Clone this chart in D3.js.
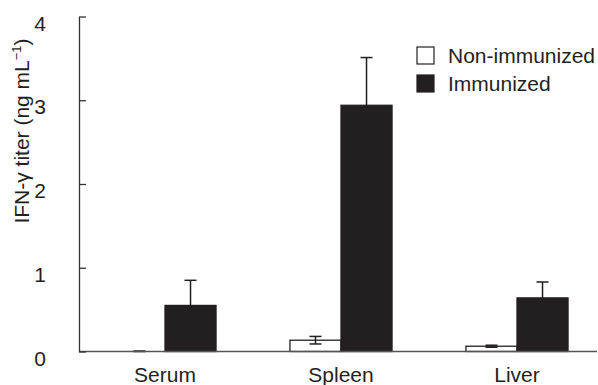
<html>
<head>
<meta charset="UTF-8"/>
<script src="https://d3js.org/d3.v7.min.js"></script>
<style>
body { margin: 0; background: #fff; }
text { font-family: "Liberation Sans", Arial, sans-serif; fill: #231f20; }
</style>
</head>
<body>
<script>
// data
const categories = ["Serum", "Spleen", "Liver"];
const series = ["Non-immunized", "Immunized"];
const nonImmunized = [0, 0.135, 0.063];
const nonImmunizedErr = [0.005, 0.045, 0.012];
const immunized = [0.55, 2.94, 0.64];
const immunizedErr = [0.30, 0.57, 0.19];
const yTicks = [0, 1, 2, 3, 4];

const width = 598;
const height = 385;
const dark = "#231f20";

var svg = d3.select("body")
			.append("svg")
			.attr("width", width)
			.attr("height", height);

var y = d3.scaleLinear().domain([0, 4]).range([351.5, 16.5]);

var x0 = d3.scaleBand()
			.domain(categories)
			.range([77, 605])
			.paddingInner(0.42)
			.paddingOuter(0.21);

var x1 = d3.scaleBand()
			.domain(series)
			.range([0, x0.bandwidth()]);

// rows: one per bar
var rows = [];
categories.forEach((c, i) => {
	rows.push({cat: c, s: series[0], v: nonImmunized[i], e: nonImmunizedErr[i]});
	rows.push({cat: c, s: series[1], v: immunized[i], e: immunizedErr[i]});
});

var bar = svg.selectAll("g.bar")
			.data(rows)
			.enter()
			.append("g")
			.attr("class", "bar")
			.attr("transform", d => "translate(" + (x0(d.cat) + x1(d.s)) + ",0)");

bar.append("rect")
	.attr("x", 0)
	.attr("y", d => y(d.v))
	.attr("width", x1.bandwidth())
	.attr("height", d => y(0) - y(d.v))
	.attr("fill", d => d.s === series[0] ? "#fff" : dark)
	.attr("stroke", dark)
	.attr("stroke-width", 1.3);

//误差线
const cap = 6;
var err = bar.append("g")
			.attr("stroke", dark)
			.attr("stroke-width", 1.5);
err.append("line")
	.attr("x1", x1.bandwidth() / 2).attr("x2", x1.bandwidth() / 2)
	.attr("y1", d => y(Math.max(0, d.v - d.e)))
	.attr("y2", d => y(d.v + d.e));
err.append("line")
	.attr("x1", x1.bandwidth() / 2 - cap).attr("x2", x1.bandwidth() / 2 + cap)
	.attr("y1", d => y(d.v + d.e)).attr("y2", d => y(d.v + d.e));
err.filter(d => d.s === series[0]).append("line")
	.attr("x1", x1.bandwidth() / 2 - cap).attr("x2", x1.bandwidth() / 2 + cap)
	.attr("y1", d => y(Math.max(0, d.v - d.e))).attr("y2", d => y(Math.max(0, d.v - d.e)));

// x baseline
svg.append("line")
	.attr("x1", 79).attr("x2", 597)
	.attr("y1", y(0)).attr("y2", y(0))
	.attr("stroke", "#555")
	.attr("stroke-width", 1.6);

// y axis
var yAxis = svg.append("g")
			.attr("transform", "translate(79,0)")
			.call(d3.axisLeft(y).tickValues(yTicks).tickSize(-7).tickSizeOuter(0).tickPadding(33).tickFormat(d3.format("d")));
yAxis.select(".domain").attr("stroke", "#333").attr("stroke-width", 1.3);
yAxis.selectAll(".tick line").attr("stroke", "#333").attr("stroke-width", 1.3);
yAxis.selectAll(".tick text")
	.attr("dy", "0.65em")
	.attr("font-size", 21)
	.attr("font-family", "Liberation Sans, Arial, sans-serif")
	.attr("fill", dark);

// category labels
svg.selectAll("text.cat")
	.data(categories)
	.enter()
	.append("text")
	.attr("class", "cat")
	.attr("x", d => x0(d) + x0.bandwidth() / 2)
	.attr("y", 382)
	.attr("text-anchor", "middle")
	.attr("font-size", 21)
	.text(d => d);

// y label
var yl = svg.append("text")
			.attr("transform", "translate(29,131) rotate(-90)")
			.attr("text-anchor", "middle")
			.attr("font-size", 21);
yl.append("tspan").text("IFN-γ titer (ng mL");
yl.append("tspan").attr("font-size", 13).attr("dy", -8).text("−1");
yl.append("tspan").attr("dy", 8).text(")");

// legend
var leg = svg.selectAll("g.leg")
			.data(series)
			.enter()
			.append("g")
			.attr("class", "leg")
			.attr("transform", (d, i) => "translate(417," + (47 + i * 28) + ")");
leg.append("rect")
	.attr("width", 17).attr("height", 17)
	.attr("fill", (d, i) => i ? dark : "#fff")
	.attr("stroke", dark)
	.attr("stroke-width", 1.2);
leg.append("text")
	.attr("x", 31)
	.attr("y", 15.5)
	.attr("font-size", 21)
	.text(d => d);
</script>
</body>
</html>
